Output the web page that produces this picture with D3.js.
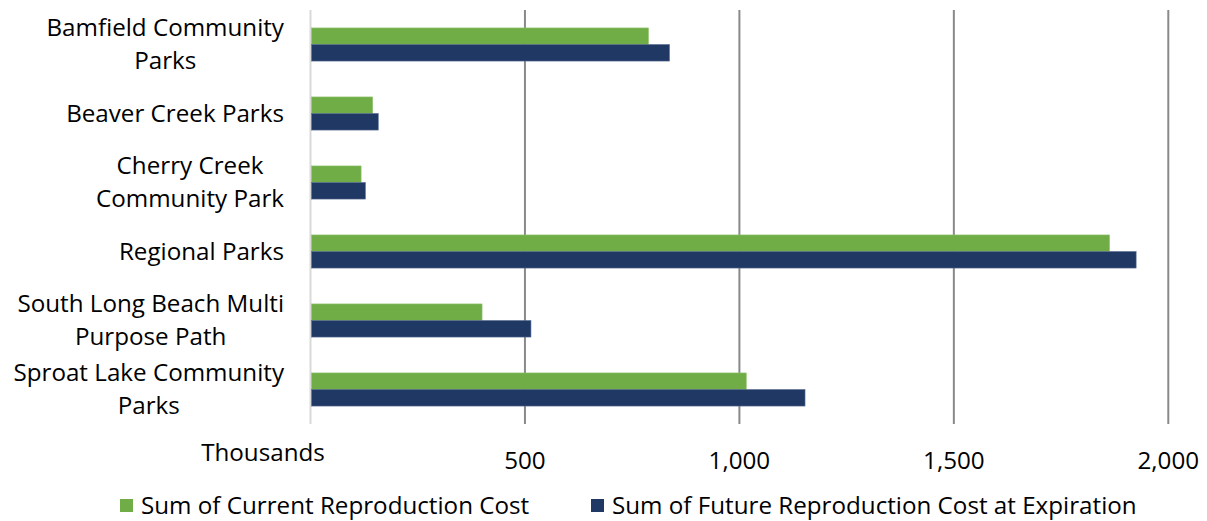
<!DOCTYPE html>
<html>
<head>
<meta charset="utf-8">
<script src="https://cdn.jsdelivr.net/npm/d3@7"></script>
<style>
  html, body { margin: 0; padding: 0; background: #fff; }
  svg { display: block; }
  text { font-family: "Open Sans", "Noto Sans", sans-serif; fill: #000; }
</style>
</head>
<body>
<svg id="chart" width="1207" height="521"></svg>
<script>
const categories = [
  "Bamfield Community Parks",
  "Beaver Creek Parks",
  "Cherry Creek Community Park",
  "Regional Parks",
  "South Long Beach Multi Purpose Path",
  "Sproat Lake Community Parks"
];
// label line breaks as shown in the chart
const labelLines = [
  ["Bamfield Community", "Parks"],
  ["Beaver Creek Parks"],
  ["Cherry Creek", "Community Park"],
  ["Regional Parks"],
  ["South Long Beach Multi", "Purpose Path"],
  ["Sproat Lake Community", "Parks"]
];
const seriesNames = ["Sum of Current Reproduction Cost", "Sum of Future Reproduction Cost at Expiration"];
const currentCost = [788, 145, 118, 1863, 400, 1016];
const futureCost = [837, 158, 128, 1925, 514, 1153];
const tickValues = [0, 500, 1000, 1500, 2000];
const tickLabels = ["", "500", "1,000", "1,500", "2,000"];
const colors = ["#70AD47", "#203864"];

const svg = d3.select("#chart");
const FS = 24.2;

const x = d3.scaleLinear().domain([0, 2000]).range([310.5, 1168.3]);
const y = d3.scaleBand().domain(categories).range([10, 424]).paddingInner(0.52).paddingOuter(0.26);
const ySub = d3.scaleBand().domain([0, 1]).range([0, y.bandwidth()]);

// gridlines
svg.append("g").selectAll("line").data(tickValues).join("line")
  .attr("x1", d => x(d)).attr("x2", d => x(d))
  .attr("y1", 10).attr("y2", 424)
  .attr("stroke", d => d === 0 ? "#d9d9d9" : "#898989")
  .attr("stroke-width", 2);

// bars
const series = [currentCost, futureCost];
series.forEach((vals, si) => {
  svg.append("g").selectAll("rect").data(categories).join("rect")
    .attr("x", x(0) + 1)
    .attr("y", d => y(d) + ySub(si))
    .attr("width", (d, i) => x(vals[i]) - x(0) - 1)
    .attr("height", ySub.bandwidth())
    .attr("fill", colors[si])
    .attr("stroke", si === 0 ? "#8fc46c" : "#5a6f93")
    .attr("stroke-width", 0.6);
});

// x tick labels
svg.append("g").selectAll("text").data(tickValues).join("text")
  .attr("x", d => x(d)).attr("y", 461).attr("dy", "0.35em")
  .attr("text-anchor", "middle")
  .attr("font-size", FS)
  .text((d, i) => tickLabels[i]);

svg.append("text").attr("x", 263).attr("y", 453).attr("dy", "0.35em")
  .attr("text-anchor", "middle").attr("font-size", FS).text("Thousands");

// y labels
const rightEdge = 284, lineH = 33;
const measurer = svg.append("text").attr("font-size", FS).attr("visibility", "hidden");
function width(s) { measurer.text(s); return measurer.node().getComputedTextLength(); }
const yl = svg.append("g");
categories.forEach((c, ci) => {
  const lines = labelLines[ci];
  const w = d3.max(lines, width);
  const cx = rightEdge - w / 2;
  const cy = y(c) + y.bandwidth() / 2;
  const t = yl.append("text").attr("text-anchor", "middle").attr("font-size", FS);
  lines.forEach((l, i) => {
    t.append("tspan").attr("x", cx)
      .attr("y", cy + (i - (lines.length - 1) / 2) * lineH)
      .attr("dy", "0.35em").text(l);
  });
});
measurer.remove();

// legend
const legendX = [120, 591];
seriesNames.forEach((n, i) => {
  svg.append("rect").attr("x", legendX[i]).attr("y", 499).attr("width", 13).attr("height", 13).attr("fill", colors[i]);
  svg.append("text").attr("x", legendX[i] + 21).attr("y", 506).attr("dy", "0.35em")
    .attr("font-size", FS).text(n);
});
</script>
</body>
</html>
